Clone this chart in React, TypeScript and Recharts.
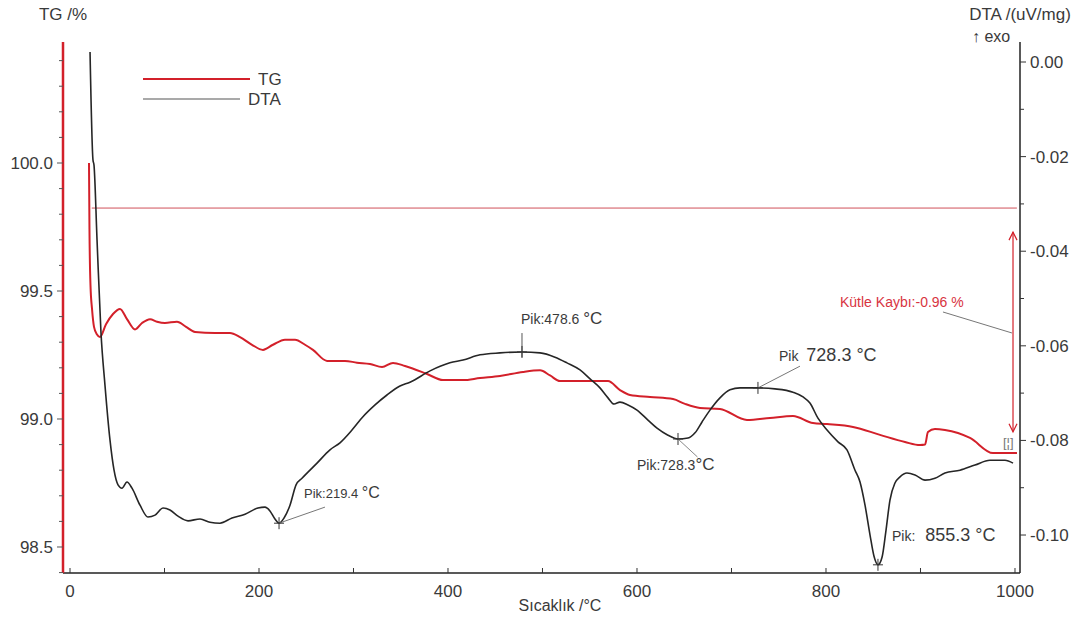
import React from "react";
import {
  ComposedChart,
  Line,
  XAxis,
  YAxis,
  ReferenceLine,
  ReferenceDot,
  Legend,
} from "recharts";

// TG curve (mass %)
const tgTemp = [
  20.1, 20.6, 21.7, 23.3, 25.4, 28.6, 31.7, 38.1, 45.5, 52.9, 60.3, 68.8, 76.2, 84.7, 92.1, 100.5,
  113.2, 122.8, 132.3, 153.4, 169.3, 179.9, 192.6, 204.2, 214.8, 227.5, 238.1, 248.7, 257.1, 272.0,
  291.0, 303.7, 317.5, 330.2, 341.8, 354.5, 377.8, 394.7, 415.9, 433.9, 455.0, 479.4, 497.4, 508.0,
  518.5, 545.0, 569.3, 582.0, 592.6, 613.8, 638.1, 650.8, 666.7, 687.8, 716.4, 740.7, 765.1, 786.2,
  801.1, 828.6, 857.1, 883.6, 899.5, 904.8, 907.9, 915.3, 925.9, 952.4, 976.7, 1002.1,
];
const tgValue = [
  100.0, 99.74, 99.52, 99.43, 99.36, 99.33, 99.32, 99.37, 99.41, 99.43, 99.39, 99.35, 99.375, 99.39,
  99.38, 99.375, 99.38, 99.36, 99.34, 99.336, 99.336, 99.32, 99.29, 99.27, 99.29, 99.31, 99.31, 99.29,
  99.27, 99.227, 99.227, 99.22, 99.215, 99.203, 99.219, 99.207, 99.176, 99.152, 99.152, 99.16, 99.168,
  99.184, 99.19, 99.17, 99.148, 99.148, 99.148, 99.113, 99.094, 99.086, 99.078, 99.059, 99.043, 99.039,
  98.996, 99.004, 99.012, 98.984, 98.98, 98.969, 98.938, 98.91, 98.898, 98.9, 98.949, 98.961, 98.957,
  98.926, 98.867, 98.867,
];

// DTA curve (uV/mg)
const dtaTemp = [
  21.2, 24.3, 25.4, 28.6, 32.8, 37.0, 42.3, 46.6, 50.8, 55.0, 60.3, 65.6, 74.1, 82.5, 90.0, 98.4,
  105.8, 114.3, 124.9, 137.6, 148.1, 158.7, 171.4, 185.2, 198.9, 206.3, 211.6, 216.9, 221.2, 226.5,
  232.8, 239.2, 245.5, 261.4, 275.1, 285.7, 298.4, 310.0, 322.8, 335.4, 349.2, 359.8, 381.0, 402.0,
  415.9, 433.9, 455.0, 478.3, 497.4, 513.2, 525.9, 539.7, 550.3, 560.8, 569.3, 575.7, 582.0, 590.5,
  600.0, 611.6, 621.2, 632.8, 643.4, 654.0, 661.4, 668.8, 677.2, 687.8, 698.4, 709.0, 728.0, 746.0,
  765.1, 775.7, 783.0, 791.5, 801.1, 812.7, 822.2, 830.7, 836.0, 841.3, 846.6, 850.8, 855.0, 859.3,
  863.5, 867.7, 873.0, 878.3, 885.7, 894.2, 904.8, 915.3, 925.9, 941.8, 957.7, 973.5, 989.4, 997.9,
];
const dtaValue = [
  0.0021, -0.0207, -0.0218, -0.0376, -0.0573, -0.0683, -0.0799, -0.0863, -0.0894, -0.0901, -0.0888,
  -0.0901, -0.0937, -0.0962, -0.0958, -0.0943, -0.0947, -0.096, -0.097, -0.0966, -0.0973, -0.0975,
  -0.0964, -0.0956, -0.0943, -0.0941, -0.0949, -0.0966, -0.0975, -0.0964, -0.0937, -0.0894, -0.088,
  -0.0848, -0.082, -0.0805, -0.0778, -0.075, -0.0725, -0.0704, -0.0685, -0.0677, -0.0653, -0.0636,
  -0.063, -0.0619, -0.0615, -0.0613, -0.0615, -0.0624, -0.0636, -0.0651, -0.067, -0.0689, -0.071,
  -0.0723, -0.0719, -0.0725, -0.0736, -0.0757, -0.0774, -0.0789, -0.0797, -0.0795, -0.0784, -0.0761,
  -0.0736, -0.071, -0.0693, -0.0689, -0.0689, -0.0691, -0.0698, -0.0708, -0.0721, -0.0753, -0.0778,
  -0.0803, -0.082, -0.0863, -0.0888, -0.0937, -0.1, -0.1045, -0.1063, -0.1047, -0.099, -0.0926, -0.089,
  -0.0877, -0.0869, -0.0873, -0.0884, -0.088, -0.0869, -0.0863, -0.0852, -0.0842, -0.0842, -0.0848,
];

// axis ticks
const xTicks = [0, 100, 200, 300, 400, 500, 600, 700, 800, 900, 1000];
const tgTicks = [
  98.4, 98.5, 98.6, 98.7, 98.8, 98.9, 99.0, 99.1, 99.2, 99.3, 99.4, 99.5, 99.6, 99.7, 99.8, 99.9,
  100.0, 100.1, 100.2, 100.3, 100.4,
];
const dtaTicks = [0, -0.01, -0.02, -0.03, -0.04, -0.05, -0.06, -0.07, -0.08, -0.09, -0.1];

// peak markers on the DTA curve
const peakTemp = [221.2, 478.3, 643.4, 728.0, 855.0];
const peakValue = [-0.0975, -0.0613, -0.0797, -0.0689, -0.1063];

// mass loss
const tgBaseline = 99.824;
const massLossTop = 99.73;
const massLossBottom = 98.95;

const tgData = tgTemp.map((t, i) => ({ t, tg: tgValue[i] }));
const dtaData = dtaTemp.map((t, i) => ({ t, dta: dtaValue[i] }));

const FONT = '"Liberation Sans", Arial, sans-serif';
const RED = "#d3202a";
const TXT = "#3a3a3a";

const isMajor = (v: number, step: number) => Math.abs(v / step - Math.round(v / step)) < 1e-6;

const LeftTick = (p: any) => {
  const v = p.payload.value;
  const major = isMajor(v, 0.5);
  return (
    <g>
      <line x1={p.x} x2={p.x - (major ? 6 : 4)} y1={p.y} y2={p.y} stroke="#555" strokeWidth={1} />
      {major && (
        <text x={p.x - 10} y={p.y + 6} textAnchor="end" fontSize={17} fill={TXT} fontFamily={FONT}>
          {v.toFixed(1)}
        </text>
      )}
    </g>
  );
};

const RightTick = (p: any) => {
  const v = p.payload.value;
  const major = isMajor(v, 0.02);
  return (
    <g>
      <line x1={p.x} x2={p.x + (major ? 6 : 4)} y1={p.y} y2={p.y} stroke="#333" strokeWidth={1} />
      {major && (
        <text x={p.x + 10} y={p.y + 6} textAnchor="start" fontSize={17} fill={TXT} fontFamily={FONT}>
          {v.toFixed(2)}
        </text>
      )}
    </g>
  );
};

const BottomTick = (p: any) => {
  const v = p.payload.value;
  const major = v % 200 === 0;
  return (
    <g>
      <line x1={p.x} x2={p.x} y1={p.y} y2={p.y - 5} stroke="#333" strokeWidth={1} />
      {major && (
        <text x={p.x} y={p.y + 24} textAnchor="middle" fontSize={17} fill={TXT} fontFamily={FONT}>
          {v}
        </text>
      )}
    </g>
  );
};

const Cross = (p: any) => (
  <path
    d={`M${p.cx - 5},${p.cy}H${p.cx + 5}M${p.cx},${p.cy - 6}V${p.cy + 6}`}
    stroke="#333"
    strokeWidth={1}
  />
);

const DoubleArrow = (p: any) => {
  const { x1, y1, x2, y2 } = p;
  return (
    <g stroke={RED} strokeWidth={1.2} fill="none">
      <line x1={x1} y1={y1} x2={x2} y2={y2} />
      <path d={`M${x1 - 4},${y1 + 8}L${x1},${y1}L${x1 + 4},${y1 + 8}`} />
      <path d={`M${x2 - 4},${y2 - 8}L${x2},${y2}L${x2 + 4},${y2 - 8}`} />
    </g>
  );
};

const renderLegend = () => (
  <svg width={160} height={42}>
    <line x1={0} y1={9} x2={107} y2={9} stroke={RED} strokeWidth={2} />
    <text x={115} y={15} fontSize={17} fill={TXT} fontFamily={FONT}>TG</text>
    <line x1={0} y1={29} x2={97} y2={29} stroke="#555" strokeWidth={1.2} />
    <text x={105} y={35} fontSize={17} fill={TXT} fontFamily={FONT}>DTA</text>
  </svg>
);

export default function App() {
  return (
    <div style={{ position: "absolute", left: 0, top: 0, width: 1083, height: 625, background: "#fff", fontFamily: FONT }}>
      <ComposedChart width={1083} height={625} margin={{ top: 42, right: 3, bottom: 22, left: 8 }}>
        <XAxis
          type="number"
          dataKey="t"
          domain={[-7.41, 1005.3]}
          allowDataOverflow
          ticks={xTicks}
          tick={<BottomTick />}
          tickLine={false}
          tickSize={0}
          tickMargin={0}
          height={30}
          stroke="#222"
          strokeWidth={1.5}
        />
        <YAxis
          yAxisId="tg"
          orientation="left"
          type="number"
          domain={[98.3984, 100.4727]}
          allowDataOverflow
          ticks={tgTicks}
          tick={<LeftTick />}
          tickLine={false}
          tickSize={0}
          tickMargin={0}
          width={55}
          stroke={RED}
          strokeWidth={2.5}
        />
        <YAxis
          yAxisId="dta"
          orientation="right"
          type="number"
          domain={[-0.10803, 0.00423]}
          allowDataOverflow
          ticks={dtaTicks}
          tick={<RightTick />}
          tickLine={false}
          tickSize={0}
          tickMargin={0}
          width={60}
          stroke="#222"
          strokeWidth={1.5}
        />
        <Legend
          layout="horizontal"
          verticalAlign="middle"
          align="center"
          content={renderLegend}
          wrapperStyle={{ left: 143, top: 70, width: 160, height: 42 }}
        />
        <ReferenceLine
          yAxisId="tg"
          segment={[{ x: 23, y: tgBaseline }, { x: 1002, y: tgBaseline }]}
          stroke="#d0505a"
          strokeWidth={1}
        />
        <Line
          yAxisId="tg"
          data={tgData}
          dataKey="tg"
          type="monotone"
          stroke={RED}
          strokeWidth={2}
          dot={false}
          isAnimationActive={false}
        />
        <Line
          yAxisId="dta"
          data={dtaData}
          dataKey="dta"
          type="monotone"
          stroke="#262626"
          strokeWidth={1.6}
          dot={false}
          isAnimationActive={false}
        />
        {peakTemp.map((t, i) => (
          <ReferenceDot key={t} yAxisId="dta" x={t} y={peakValue[i]} r={0} shape={<Cross />} />
        ))}
        <ReferenceLine yAxisId="dta" segment={[{ x: 221.2, y: -0.0975 }, { x: 269.8, y: -0.0941 }]} stroke="#777" strokeWidth={1} />
        <ReferenceLine yAxisId="dta" segment={[{ x: 478.3, y: -0.0573 }, { x: 478.3, y: -0.0624 }]} stroke="#555" strokeWidth={1} />
        <ReferenceLine yAxisId="dta" segment={[{ x: 643.4, y: -0.0797 }, { x: 664, y: -0.0835 }]} stroke="#888" strokeWidth={1} />
        <ReferenceLine yAxisId="dta" segment={[{ x: 728.0, y: -0.0689 }, { x: 772.5, y: -0.0643 }]} stroke="#777" strokeWidth={1} />
        <ReferenceLine yAxisId="tg" segment={[{ x: 923.8, y: 99.418 }, { x: 996.8, y: 99.336 }]} stroke="#777" strokeWidth={1} />
        <ReferenceLine
          yAxisId="tg"
          segment={[{ x: 997.9, y: massLossTop }, { x: 997.9, y: massLossBottom }]}
          shape={<DoubleArrow />}
        />
      </ComposedChart>
      <svg
        width={1083}
        height={625}
        style={{ position: "absolute", left: 0, top: 0, pointerEvents: "none" }}
        fontFamily={FONT}
      >
        <text x={63} y={20} textAnchor="middle" fontSize={17} fill={TXT}>TG /%</text>
        <text x={1020} y={20} textAnchor="middle" fontSize={17} fill={TXT}>DTA /(uV/mg)</text>
        <text x={972} y={42} fontSize={16} fill={TXT}>↑ exo</text>
        <text x={560} y={611} textAnchor="middle" fontSize={16} fill={TXT}>Sıcaklık /°C</text>

        <text x={304} y={498} fontSize={13} fill={TXT}>Pik:219.4 <tspan fontSize={16}>°C</tspan></text>
        <text x={521} y={324} fontSize={14} fill={TXT}>Pik:478.6 <tspan fontSize={17}>°C</tspan></text>
        <text x={637} y={470} fontSize={14} fill={TXT}>Pik:728.3<tspan fontSize={17}>°C</tspan></text>
        <text x={779} y={361} fontSize={14} fill={TXT}>Pik <tspan fontSize={18} dx={4}>728.3 °C</tspan></text>
        <text x={892} y={541} fontSize={14} fill={TXT}>Pik: <tspan fontSize={18} dx={6}>855.3 °C</tspan></text>
        <text x={840} y={307} fontSize={14} fill="#d8343f">Kütle Kaybı:-0.96 %</text>
        <text x={1003} y={447} fontSize={13} fill="#777">[¦]</text>
      </svg>
    </div>
  );
}
